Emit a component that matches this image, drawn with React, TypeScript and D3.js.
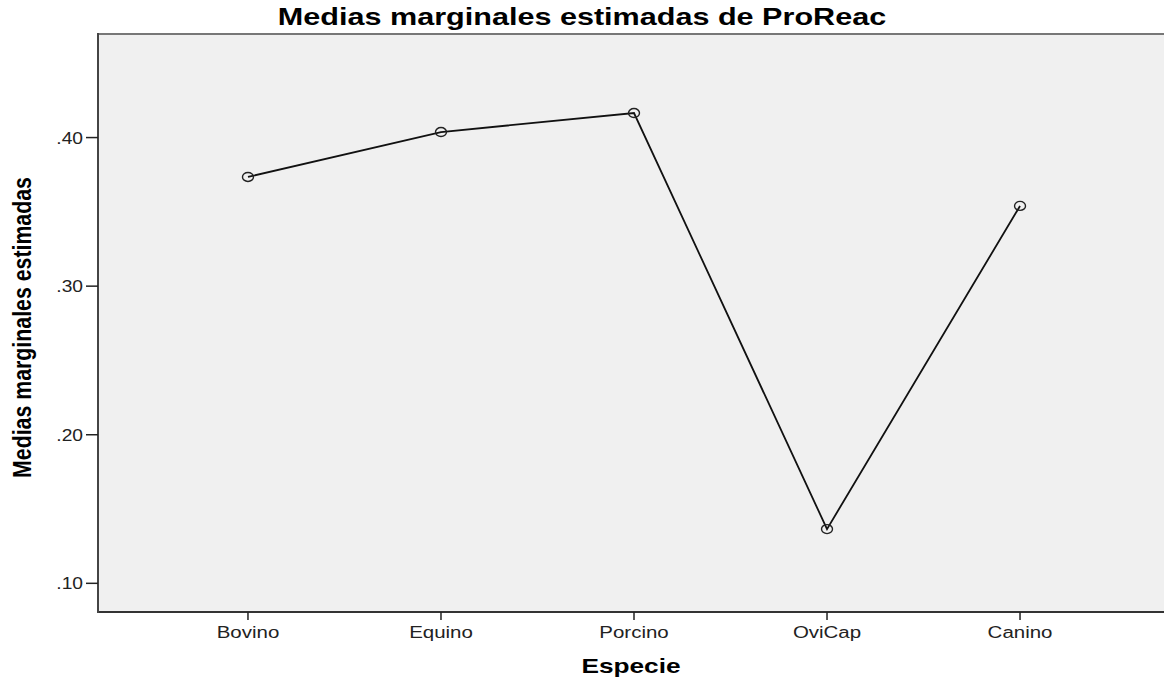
import React from "react";
import * as d3 from "d3";

const categories = ["Bovino", "Equino", "Porcino", "OviCap", "Canino"];
const means = [0.3735, 0.4037, 0.4165, 0.1365, 0.354];
const yTicks = [0.1, 0.2, 0.3, 0.4];

const W = 1164;
const H = 679;
const left = 98;
const right = 1170;
const top = 34;
const bottom = 612;
// the source picture is stretched sideways, so horizontal text is widened
const sx = 1.28;

const App = () => {
  const x = d3.scalePoint<string>().domain(categories).range([left, right]).padding(0.777);
  const y = d3.scaleLinear().domain([0.0807, 0.4697]).range([bottom, top]);

  const line = d3
    .line<number>()
    .x((_, i) => x(categories[i]) as number)
    .y((d) => y(d));

  const fmt = (v: number) => d3.format(".2f")(v).replace(/^0/, "");

  return (
    <svg
      width={W}
      height={H}
      style={{ position: "absolute", left: 0, top: 0, background: "#fff" }}
      fontFamily="Liberation Sans, Arial, sans-serif"
    >
      <text
        transform={`translate(582,25) scale(1.33,1)`}
        textAnchor="middle"
        fontSize={23}
        fontWeight="bold"
        fill="#000"
      >
        Medias marginales estimadas de ProReac
      </text>

      <rect x={left} y={top} width={right - left} height={bottom - top} fill="#f0f0f0" />
      <line x1={left} x2={right} y1={top} y2={top} stroke="#777" strokeWidth={2} />
      <line x1={left} x2={right} y1={bottom} y2={bottom} stroke="#333" strokeWidth={2} />
      <line x1={left} x2={left} y1={top - 1} y2={bottom + 1} stroke="#444" strokeWidth={2} />

      {yTicks.map((t) => (
        <g key={t}>
          <line x1={left - 12} x2={left} y1={y(t)} y2={y(t)} stroke="#222" strokeWidth={1.5} />
          <text
            transform={`translate(${left - 15},${y(t) + 6}) scale(1.2,1)`}
            textAnchor="end"
            fontSize={16}
            fill="#222"
          >
            {fmt(t)}
          </text>
        </g>
      ))}

      {categories.map((c) => (
        <g key={c}>
          <line x1={x(c)} x2={x(c)} y1={bottom} y2={bottom + 8} stroke="#222" strokeWidth={1.5} />
          <text
            transform={`translate(${x(c)},${bottom + 26}) scale(${sx},1)`}
            textAnchor="middle"
            fontSize={16}
            fill="#222"
          >
            {c}
          </text>
        </g>
      ))}

      <path d={line(means) ?? ""} fill="none" stroke="#111" strokeWidth={1.8} />
      {means.map((m, i) => (
        <ellipse
          key={categories[i]}
          cx={x(categories[i])}
          cy={y(m)}
          rx={5.5}
          ry={4.5}
          fill="none"
          stroke="#222"
          strokeWidth={1.4}
        />
      ))}

      <text
        transform={`translate(631,673) scale(1.25,1)`}
        textAnchor="middle"
        fontSize={21}
        fontWeight="bold"
        fill="#000"
      >
        Especie
      </text>

      <text
        transform={`translate(31,327.5) rotate(-90) scale(0.82,1)`}
        textAnchor="middle"
        fontSize={26}
        fontWeight="bold"
        fill="#000"
      >
        Medias marginales estimadas
      </text>
    </svg>
  );
};

export default App;
